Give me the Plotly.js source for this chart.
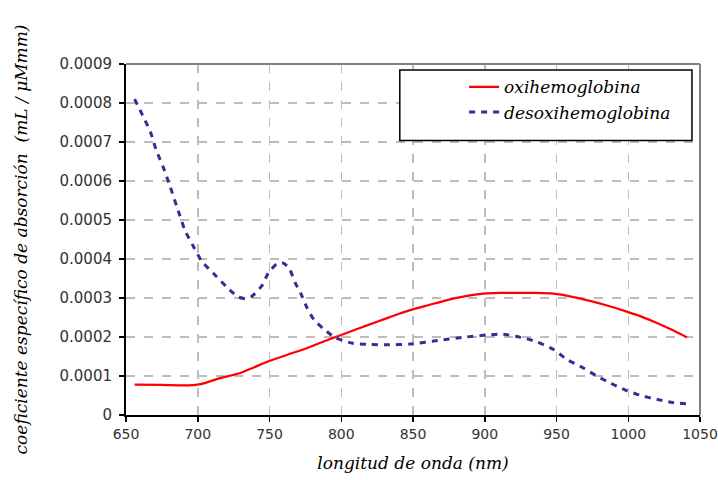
<!DOCTYPE html>
<html>
<head>
<meta charset="utf-8">
<script src="https://cdn.plot.ly/plotly-3.0.1.min.js"></script>
<style>html,body{margin:0;padding:0;background:#fff;}#chart{width:718px;height:480px;}</style>
</head>
<body>
<div id="chart"></div>
<script>
var seriesNames = ["oxihemoglobina", "desoxihemoglobina"];

var oxyX = [656, 675, 694, 702, 715, 729, 739, 748, 762, 776, 786, 799, 812, 825, 836, 848, 861, 873, 886, 899, 910, 922, 935, 948, 961, 974, 987, 999, 1010, 1020, 1030, 1041];
var oxyY = [0.000078, 0.000077, 0.000076, 0.000079, 0.000094, 0.000107, 0.000122, 0.000136, 0.000154, 0.000171, 0.000186, 0.000204, 0.000222, 0.000239, 0.000254, 0.000269, 0.000282, 0.000294, 0.000304, 0.000311, 0.000313, 0.000313, 0.000313, 0.000311, 0.000303, 0.000292, 0.000279, 0.000265, 0.000251, 0.000236, 0.000219, 0.000199];

var deoxyX = [656, 662, 667, 671, 676, 680, 687, 691, 697, 703, 711, 720, 728, 734, 738, 745, 749, 755, 760, 764, 768, 772, 776, 781, 788, 796, 808, 820, 832, 848, 869, 887, 901, 913, 925, 936, 948, 957, 969, 978, 988, 998, 1008, 1020, 1031, 1042];
var deoxyY = [0.000810, 0.000765, 0.000726, 0.000680, 0.000635, 0.000594, 0.000517, 0.000474, 0.000432, 0.000393, 0.000363, 0.000329, 0.000303, 0.000298, 0.000305, 0.000333, 0.000363, 0.000387, 0.000389, 0.000374, 0.000338, 0.000310, 0.000276, 0.000244, 0.000220, 0.000198, 0.000184, 0.000181, 0.000180, 0.000182, 0.000192, 0.000200, 0.000205, 0.000207, 0.000199, 0.000188, 0.000168, 0.000143, 0.000120, 0.000100, 0.000081, 0.000064, 0.000051, 0.000040, 0.000032, 0.000028];

var xTitle = "longitud de onda (nm)";
var yTitle = "coeficiente específico de absorción&nbsp;&nbsp;(mL / μMmm)";

var serif = "DejaVu Serif, serif";
var sans = "DejaVu Sans, Verdana, sans-serif";

var traces = [
  {x: oxyX, y: oxyY, name: seriesNames[0], type: "scatter", mode: "lines",
   line: {color: "#FF0000", width: 2.2, shape: "spline", smoothing: 0.6}},
  {x: deoxyX, y: deoxyY, name: seriesNames[1], type: "scatter", mode: "lines",
   line: {color: "#2E3192", width: 3, dash: "6px,6px", shape: "spline", smoothing: 0.6}}
];

var layout = {
  width: 718, height: 480,
  margin: {l: 126, r: 18, t: 64, b: 65},
  paper_bgcolor: "#ffffff",
  plot_bgcolor: "#ffffff",
  showlegend: true,
  legend: {
    x: 0.589, y: 0.985, xanchor: "left", yanchor: "top",
    bgcolor: "rgba(0,0,0,0)", borderwidth: 0,
    font: {family: serif, size: 17, color: "#000", style: "italic"},
    tracegroupgap: 0
  },
  xaxis: {
    range: [650, 1050], dtick: 50, tick0: 650,
    showgrid: true, gridcolor: "#BDBDBD", griddash: "dash", gridwidth: 1.5,
    showline: true, linecolor: "#000", linewidth: 2,
    ticks: "outside", ticklen: 5, tickcolor: "#000", tickwidth: 1.5,
    tickfont: {family: sans, size: 14, color: "#333"},
    zeroline: false,
    title: {text: xTitle, font: {family: serif, size: 17, color: "#000", style: "italic"}, standoff: 16}
  },
  yaxis: {
    range: [0, 0.0009], dtick: 0.0001, tick0: 0,
    exponentformat: "none",
    showgrid: true, gridcolor: "#BDBDBD", griddash: "dash", gridwidth: 1.5,
    showline: true, linecolor: "#000", linewidth: 2,
    ticks: "outside", ticklen: 5, tickcolor: "#000", tickwidth: 1.5,
    ticklabelstandoff: 4,
    tickfont: {family: sans, size: 15, color: "#333"},
    zeroline: false,
    title: {text: yTitle, font: {family: serif, size: 17, color: "#000", style: "italic"}, standoff: 28}
  },
  shapes: [
    {type: "line", xref: "paper", yref: "paper", x0: 0, x1: 1, y0: 1, y1: 1, line: {color: "#808080", width: 2}},
    {type: "line", xref: "paper", yref: "paper", x0: 1, x1: 1, y0: 0, y1: 1, line: {color: "#808080", width: 2}},
    {type: "rect", xref: "paper", yref: "paper", x0: 0.477, x1: 0.986, y0: 0.782, y1: 0.983,
     fillcolor: "#ffffff", line: {color: "#000", width: 1.5}, layer: "above"}
  ]
};

Plotly.newPlot("chart", traces, layout, {displayModeBar: false, staticPlot: true});
</script>
</body>
</html>
